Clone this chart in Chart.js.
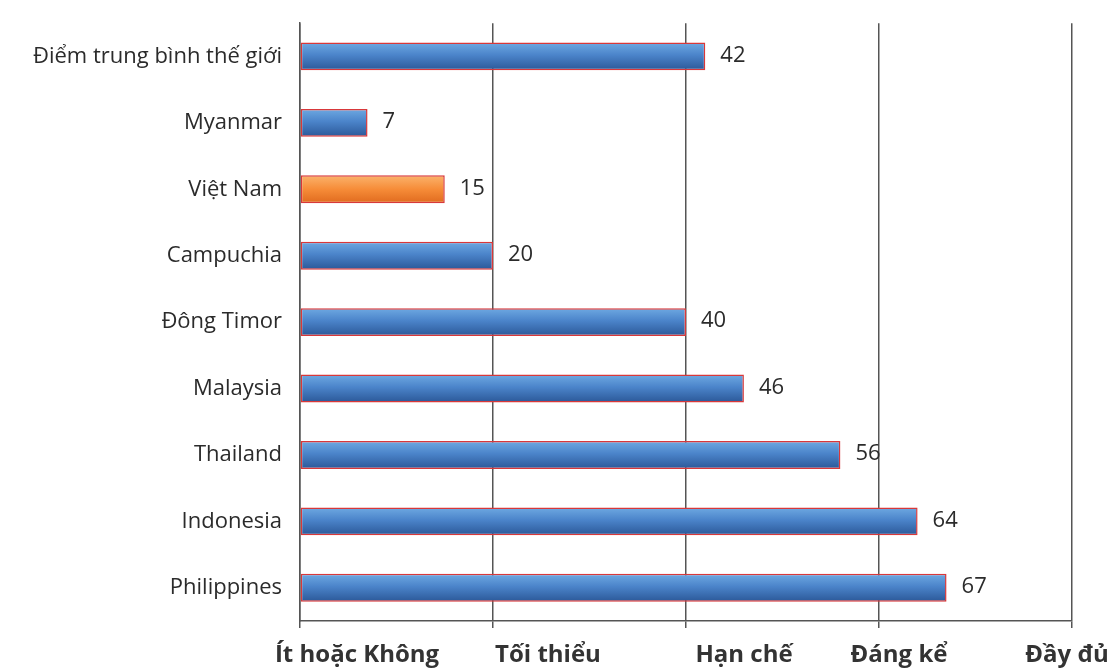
<!DOCTYPE html>
<html>
<head>
<meta charset="utf-8">
<script src="https://cdn.jsdelivr.net/npm/chart.js@4"></script>
<style>
  body { margin: 0; background: #fff; }
  #wrap { width: 1118px; height: 668px; }
</style>
</head>
<body>
<div id="wrap"><canvas id="barChart"></canvas></div>
<script>
// Data
const countries = ['Điểm trung bình thế giới', 'Myanmar', 'Việt Nam', 'Campuchia', 'Đông Timor',
                   'Malaysia', 'Thailand', 'Indonesia', 'Philippines'];
const scores = [42, 7, 15, 20, 40, 46, 56, 64, 67];
const levelTicks = [0, 20, 40, 60, 80];
const levelLabels = ['Ít hoặc Không', 'Tối thiểu', 'Hạn chế', 'Đáng kể', 'Đầy đủ'];
const highlight = 'Việt Nam';

// where each bottom label sits relative to its grid line (the scan has them shifted)
const labelShift = [57, 55, 58, 20, -5];

// flat colour per bar (gradients get painted on top in the plugin below)
function barFill(ctx) {
    return countries[ctx.dataIndex] === highlight ? '#f58b35' : '#4a82c8';
}

const gradients = {
    id: 'gradients',
    beforeDatasetsDraw(chart) {
        const c = chart.ctx;
        chart.getDatasetMeta(0).data.forEach((bar, i) => {
            const h = bar.height;
            if (!Number.isFinite(bar.y) || !Number.isFinite(h)) return;
            const g = c.createLinearGradient(0, bar.y - h / 2, 0, bar.y + h / 2);
            if (countries[i] === highlight) {
                g.addColorStop(0, '#fbb36c');
                g.addColorStop(0.5, '#f68c38');
                g.addColorStop(1, '#e06a1e');
            } else {
                g.addColorStop(0, '#6ea9e2');
                g.addColorStop(0.45, '#4b84ca');
                g.addColorStop(1, '#2b5898');
            }
            bar.options.backgroundColor = g;
        });
    }
};

// value labels at the end of each bar + bold level labels under the axis
const extras = {
    id: 'extras',
    afterDatasetsDraw(chart) {
        const c = chart.ctx;
        const meta = chart.getDatasetMeta(0);
        c.save();
        c.font = '22px "Open Sans", "Noto Sans", sans-serif';
        c.fillStyle = '#2b2b2b';
        c.textAlign = 'left';
        c.textBaseline = 'middle';
        meta.data.forEach((bar, i) => {
            c.fillText(String(scores[i]), bar.x + 15, bar.y - 1);
        });

        const xs = chart.scales.x;
        c.font = 'bold 24px "Open Sans", "Noto Sans", sans-serif';
        c.fillStyle = '#333';
        c.textAlign = 'center';
        c.textBaseline = 'alphabetic';
        levelTicks.forEach((v, i) => {
            c.fillText(levelLabels[i], xs.getPixelForValue(v) + labelShift[i], 662);
        });
        c.restore();
    }
};

new Chart(document.getElementById('barChart').getContext('2d'), {
    type: 'bar',
    data: {
        labels: countries,
        datasets: [{
            data: scores,
            backgroundColor: barFill,
            borderColor: '#d8383a',
            borderWidth: 1.5,
            borderSkipped: false,
            barPercentage: 0.42,
            categoryPercentage: 1
        }]
    },
    options: {
        indexAxis: 'y',
        responsive: true,
        maintainAspectRatio: false,
        animation: false,
        layout: { padding: { top: 14, right: 46, bottom: 0, left: 0 } },
        plugins: {
            legend: { display: false },
            tooltip: { enabled: false }
        },
        scales: {
            x: {
                min: 0,
                max: 80,
                afterBuildTicks(scale) {
                    scale.ticks = levelTicks.map(v => ({ value: v }));
                },
                afterFit(scale) { scale.height = 47; },
                grid: {
                    color: '#555',
                    lineWidth: 1.5,
                    drawTicks: true,
                    tickLength: 7,
                    tickColor: '#555'
                },
                border: { display: true, color: '#555', width: 1.5 },
                ticks: { display: false }
            },
            y: {
                afterFit(scale) { scale.width = 300; },
                grid: { display: false },
                border: { display: true, color: '#555', width: 1.5 },
                ticks: {
                    color: '#2b2b2b',
                    padding: 10,
                    font: { family: '"Open Sans", "Noto Sans", sans-serif', size: 22 }
                }
            }
        }
    },
    plugins: [gradients, extras]
});
</script>
</body>
</html>
